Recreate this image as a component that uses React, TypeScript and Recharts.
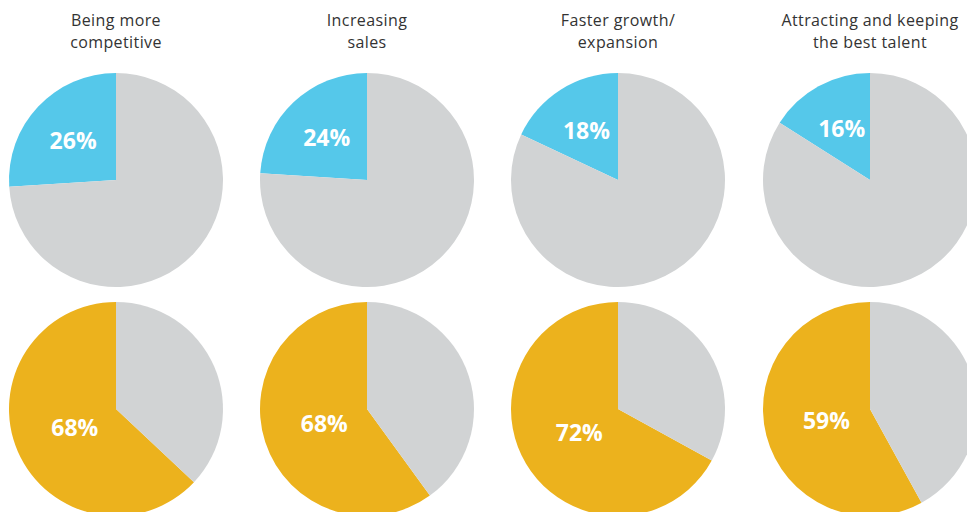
import React from 'react';
import { PieChart, Pie, Cell } from 'recharts';

const categories = [
  ['Being more', 'competitive'],
  ['Increasing', 'sales'],
  ['Faster growth/', 'expansion'],
  ['Attracting and keeping', 'the best talent'],
];
// top row: slices match their labels
const topValues = [26, 24, 18, 16];
// bottom row: printed labels, and the slice sizes as drawn in the picture
const bottomLabels = [68, 68, 72, 59];
const bottomSlices = [63, 60, 67, 58];

const BLUE = '#55C8EA';
const ORANGE = '#ECB21D';
const GREY = '#D1D3D4';

const W = 967;
const H = 512;
const colX = [116, 367, 618, 870];
const rowY = [180, 409];
const R = 107;

const RADIAN = Math.PI / 180;

const makeLabel = (ratio: number, texts: number[]) => (props: any) => {
  const { cx, cy, midAngle, outerRadius, index } = props;
  if (index !== 0) return null;
  const col = colX.indexOf(Math.round(cx));
  const r = outerRadius * ratio;
  const x = cx + r * Math.cos(-midAngle * RADIAN);
  const y = cy + r * Math.sin(-midAngle * RADIAN);
  return (
    <text
      x={x}
      y={y}
      fill="#fff"
      textAnchor="middle"
      dominantBaseline="central"
      style={{ fontFamily: '"Open Sans", sans-serif', fontWeight: 700, fontSize: 23 }}
    >
      {`${texts[col]}%`}
    </text>
  );
};

const toData = (v: number) => [
  { name: 'share', value: v },
  { name: 'rest', value: 100 - v },
];

const App: React.FC = () => {
  return (
    <div style={{ position: 'absolute', left: 0, top: 0, width: W, height: H, overflow: 'hidden', background: '#fff' }}>
      {categories.map((lines, i) => (
        <div
          key={`t-${i}`}
          style={{
            position: 'absolute',
            left: colX[i] - 120,
            top: 9,
            width: 240,
            textAlign: 'center',
            fontFamily: '"Open Sans", sans-serif',
            fontSize: 16,
            letterSpacing: 0.4,
            lineHeight: '22px',
            color: '#333',
          }}
        >
          {lines[0]}
          <br />
          {lines[1]}
        </div>
      ))}
      <PieChart width={W} height={H} margin={{ top: 0, right: 0, bottom: 0, left: 0 }}>
        {topValues.map((v, i) => (
          <Pie
            key={`top-${i}`}
            data={toData(v)}
            dataKey="value"
            cx={colX[i]}
            cy={rowY[0]}
            outerRadius={R}
            startAngle={90}
            endAngle={450}
            stroke="none"
            label={makeLabel(0.55, topValues)}
            labelLine={false}
            isAnimationActive={false}
          >
            <Cell fill={BLUE} />
            <Cell fill={GREY} />
          </Pie>
        ))}
        {bottomSlices.map((v, i) => (
          <Pie
            key={`bot-${i}`}
            data={toData(v)}
            dataKey="value"
            cx={colX[i]}
            cy={rowY[1]}
            outerRadius={R}
            startAngle={90}
            endAngle={450}
            stroke="none"
            label={makeLabel(0.42, bottomLabels)}
            labelLine={false}
            isAnimationActive={false}
          >
            <Cell fill={ORANGE} />
            <Cell fill={GREY} />
          </Pie>
        ))}
      </PieChart>
    </div>
  );
};

export default App;
